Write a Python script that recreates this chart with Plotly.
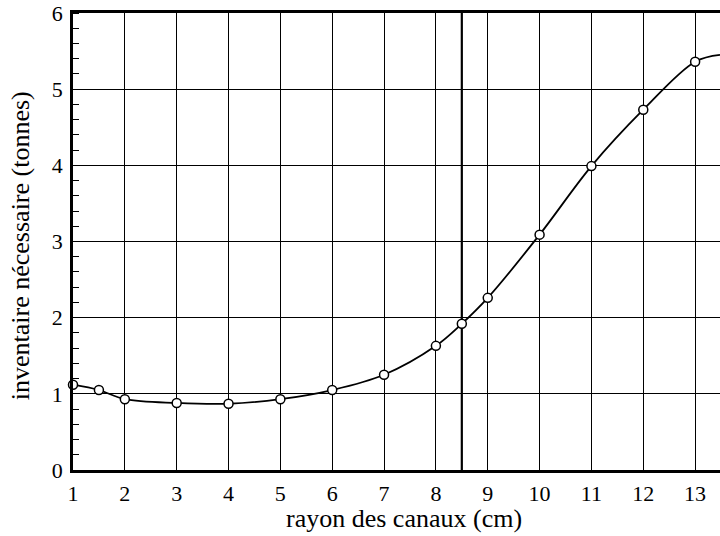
import plotly.graph_objects as go

# data
rayon_cm = [1, 1.5, 2, 3, 4, 5, 6, 7, 8, 8.5, 9, 10, 11, 12, 13]
inventaire_t = [1.12, 1.05, 0.93, 0.88, 0.87, 0.93, 1.05, 1.25, 1.63, 1.92, 2.26, 3.09, 3.99, 4.73, 5.36]
# curve continuation to the right edge of the plot
courbe_x = rayon_cm + [13.48]
courbe_y = inventaire_t + [5.45]
x_limite = 8.5
x_range = [1, 13.48]
y_range = [0, 6]
x_ticks = list(range(1, 14))
y_ticks = list(range(0, 7))
x_title = "rayon des canaux (cm)"
y_title = "inventaire nécessaire (tonnes)"

font = "Liberation Serif"

fig = go.Figure()
fig.add_trace(go.Scatter(x=[x_limite, x_limite], y=y_range, mode="lines",
                         line=dict(color="black", width=2.2), showlegend=False, hoverinfo="skip"))
fig.add_trace(go.Scatter(x=courbe_x, y=courbe_y, mode="lines",
                         line=dict(color="black", width=1.8, shape="spline", smoothing=1.0),
                         showlegend=False))
fig.add_trace(go.Scatter(x=rayon_cm, y=inventaire_t, mode="markers", cliponaxis=False,
                         marker=dict(symbol="circle", size=9, color="white",
                                     line=dict(color="black", width=1.5)),
                         showlegend=False))

fig.update_layout(
    width=720, height=536,
    margin=dict(l=73, r=0, t=13, b=66),
    paper_bgcolor="white", plot_bgcolor="white",
    font=dict(family=font, size=22, color="black"),
    annotations=[
        dict(text=x_title, xref="paper", yref="paper", x=0.5116, y=-0.107,
             xanchor="center", yanchor="middle", showarrow=False, font=dict(size=26)),
        dict(text=y_title, xref="paper", yref="paper", x=-0.081, y=0.491,
             xanchor="center", yanchor="middle", textangle=-90, showarrow=False,
             borderpad=0, font=dict(size=26)),
    ],
)
fig.update_xaxes(
    range=x_range, tickvals=x_ticks, ticktext=[str(v) for v in x_ticks],
    showgrid=True, gridcolor="black", gridwidth=1,
    showline=True, linecolor="black", linewidth=2.5, mirror=True,
    ticks="", ticklabelstandoff=2, automargin=False, ticklabeloverflow="allow",
    zeroline=False, tickfont=dict(size=22),
)
fig.update_yaxes(
    range=y_range, tickvals=y_ticks, ticktext=[str(v) for v in y_ticks],
    showgrid=True, gridcolor="black", gridwidth=1,
    showline=True, linecolor="black", linewidth=2.5, automargin=False,
    ticks="", zeroline=False, ticklabelstandoff=3, ticklabeloverflow="allow",
    minor=dict(ticks="inside", ticklen=6, dtick=0.2, tickcolor="black", showgrid=False, tickwidth=1),
    tickfont=dict(size=22),
)

fig.write_html("out.html", config={"displayModeBar": False},
               post_script="document.body.style.margin='0';")
